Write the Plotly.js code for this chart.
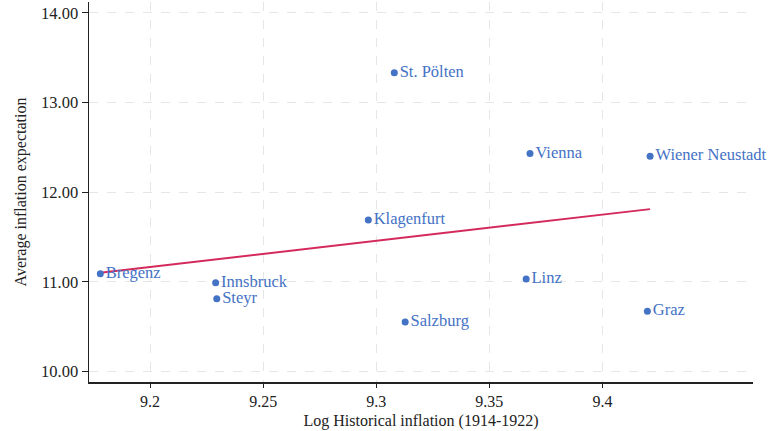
<!DOCTYPE html>
<html>
<head>
<meta charset="utf-8">
<script src="https://cdn.plot.ly/plotly-3.0.1.min.js"></script>
<style>html,body{margin:0;padding:0;background:#fff}#chart{width:768px;height:431px}</style>
</head>
<body>
<div id="chart"></div>
<script>
const cities = ["Bregenz","Innsbruck","Steyr","Klagenfurt","St. Pölten","Salzburg","Linz","Vienna","Graz","Wiener Neustadt"];
const logInflation = [9.178, 9.229, 9.2295, 9.2965, 9.308, 9.3128, 9.3663, 9.368, 9.4199, 9.4211];
const avgExpectation = [11.09, 10.99, 10.81, 11.69, 13.33, 10.55, 11.03, 12.43, 10.67, 12.40];
const fitX = [9.178, 9.4211];
const fitY = [11.10, 11.81];
const xTickVals = [9.2, 9.25, 9.3, 9.35, 9.4];
const xTickText = ["9.2", "9.25", "9.3", "9.35", "9.4"];
const yTickVals = [10, 11, 12, 13, 14];

const serif = "Liberation Serif, Times New Roman, serif";
const blue = "#4472C4";

const traces = [
  {
    x: fitX, y: fitY, mode: "lines", type: "scatter",
    line: {color: "#D42A5B", width: 2}, hoverinfo: "skip", showlegend: false
  },
  {
    x: logInflation, y: avgExpectation, text: cities, mode: "markers+text", type: "scatter",
    textposition: "middle right",
    textfont: {family: serif, size: 16.5, color: blue},
    marker: {color: blue, size: 7}, showlegend: false, cliponaxis: false
  }
];

const layout = {
  width: 768, height: 431,
  margin: {l: 89, r: 15, t: 2, b: 49},
  paper_bgcolor: "#fff", plot_bgcolor: "#fff",
  font: {family: serif, size: 16, color: "#222"},
  xaxis: {
    range: [9.173, 9.4666],
    tickvals: xTickVals, ticktext: xTickText,
    showgrid: true, gridcolor: "#e6e6e6", griddash: "dash", gridwidth: 1,
    zeroline: false, showline: true, linecolor: "#222", linewidth: 1.5,
    ticks: "outside", ticklen: 4, tickcolor: "#222", tickwidth: 1,
    tickfont: {family: serif, size: 16, color: "#222"},
    title: {text: "Log Historical inflation (1914-1922)", font: {family: serif, size: 16, color: "#222"}, standoff: 6}
  },
  yaxis: {
    range: [9.882, 14.12],
    tickvals: yTickVals, tickformat: ".2f",
    showgrid: true, gridcolor: "#e6e6e6", griddash: "dash", gridwidth: 1,
    zeroline: false, showline: true, linecolor: "#222", linewidth: 1.5,
    ticks: "outside", ticklen: 6, tickcolor: "#222", tickwidth: 1,
    tickfont: {family: serif, size: 16.5, color: "#222"},
    title: {text: "Average inflation expectation", font: {family: serif, size: 16, color: "#222"}, standoff: 10}
  }
};

Plotly.newPlot("chart", traces, layout, {displayModeBar: false, staticPlot: true});
</script>
</body>
</html>
